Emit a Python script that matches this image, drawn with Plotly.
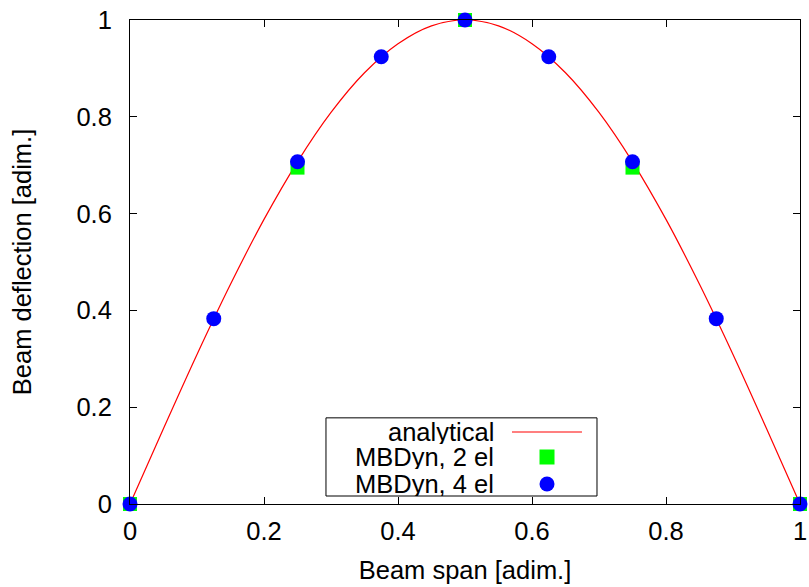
import plotly.graph_objects as go

# analytical curve
x_analytical = [0.0, 0.05, 0.10, 0.15, 0.20, 0.25, 0.30, 0.35, 0.40, 0.45, 0.50,
                0.55, 0.60, 0.65, 0.70, 0.75, 0.80, 0.85, 0.90, 0.95, 1.0]
y_analytical = [0.0, 0.156, 0.309, 0.454, 0.588, 0.707, 0.809, 0.891, 0.951, 0.988, 1.0,
                0.988, 0.951, 0.891, 0.809, 0.707, 0.588, 0.454, 0.309, 0.156, 0.0]

x_2el = [0.0, 0.25, 0.5, 0.75, 1.0]
y_2el = [0.0, 0.695, 1.0, 0.695, 0.0]

x_4el = [0.0, 0.125, 0.25, 0.375, 0.5, 0.625, 0.75, 0.875, 1.0]
y_4el = [0.0, 0.383, 0.707, 0.924, 1.0, 0.924, 0.707, 0.383, 0.0]

legend_labels = ["analytical", "MBDyn, 2 el", "MBDyn, 4 el"]
x_ticks = [0, 0.2, 0.4, 0.6, 0.8, 1]
y_ticks = [0, 0.2, 0.4, 0.6, 0.8, 1]

FONT = "Liberation Sans, Arial, Helvetica, sans-serif"
FS = 25.5

fig = go.Figure()
fig.add_trace(go.Scatter(x=x_analytical, y=y_analytical, mode="lines",
                         line=dict(color="#ff0000", width=1.2, shape="spline"),
                         name=legend_labels[0], cliponaxis=False))
fig.add_trace(go.Scatter(x=x_2el, y=y_2el, mode="markers",
                         marker=dict(symbol="square", size=14, color="#00ff00",
                                     line=dict(width=0)),
                         name=legend_labels[1], cliponaxis=False))
fig.add_trace(go.Scatter(x=x_4el, y=y_4el, mode="markers",
                         marker=dict(symbol="circle", size=15, color="#0000ff",
                                     line=dict(width=0)),
                         name=legend_labels[2], cliponaxis=False))

axis_common = dict(
    range=[0, 1], showgrid=False, zeroline=False, showline=True,
    linecolor="black", linewidth=1, mirror="ticks", ticks="inside",
    ticklen=7, tickwidth=1, tickcolor="black", automargin=False,
    tickfont=dict(family=FONT, size=FS, color="black"),
)

fig.update_layout(
    width=809, height=587,
    margin=dict(l=130, r=9, t=20, b=83),
    paper_bgcolor="white", plot_bgcolor="white",
    font=dict(family=FONT, size=FS, color="black"),
    xaxis=dict(**axis_common, tickvals=x_ticks, ticklabelstandoff=4,
               title=dict(text="Beam span [adim.]", font=dict(size=FS), standoff=17)),
    yaxis=dict(**axis_common, tickvals=y_ticks, ticklabelstandoff=12,
               title=dict(text="Beam deflection [adim.]", font=dict(size=FS), standoff=37)),
    showlegend=False,
)

# legend frame (gnuplot-style key: text right-aligned, sample on the right)
fig.add_shape(type="rect", xref="paper", yref="paper",
              x0=0.2925, x1=0.697, y0=0.0165, y1=0.178,
              line=dict(color="black", width=1), fillcolor="white", layer="below")
# key samples
fig.add_shape(type="line", xref="paper", yref="paper",
              x0=0.5701, x1=0.6746, y0=0.1488, y1=0.1488,
              line=dict(color="#ff0000", width=1.2))
fig.add_shape(type="rect", xref="paper", yref="paper",
              x0=0.6112, x1=0.6336, y0=0.0816, y1=0.1126,
              line=dict(width=0), fillcolor="#00ff00")
fig.add_shape(type="circle", xref="paper", yref="paper",
              x0=0.6112, x1=0.6336, y0=0.0258, y1=0.0568,
              line=dict(width=0), fillcolor="#0000ff")

row_y = [0.1488, 0.0971, 0.0413]
for lab, yy in zip(legend_labels, row_y):
    fig.add_annotation(text=lab, xref="paper", yref="paper", x=0.5448, y=yy,
                       xanchor="right", yanchor="middle", showarrow=False,
                       height=24, valign="middle", borderpad=0,
                       font=dict(family=FONT, size=FS, color="black"))

fig.write_html("out.html", config={"displayModeBar": False},
               post_script="document.body.style.margin='0';document.body.style.padding='0';")
